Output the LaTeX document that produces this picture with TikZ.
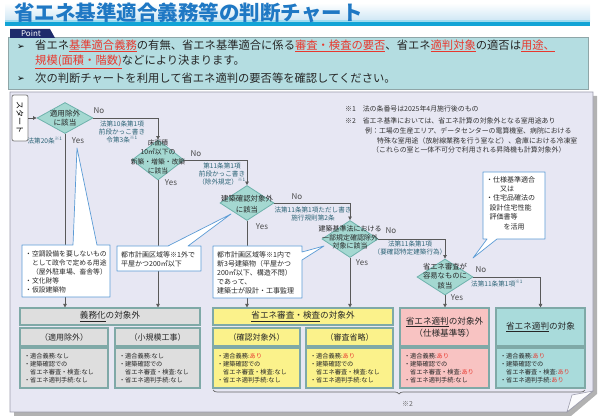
\documentclass[tikz,border=0pt]{standalone}
\usepackage{fontspec}
\setmainfont{Noto Sans CJK JP}
\newfontfamily\symfont{DejaVu Sans}
\usetikzlibrary{shapes.geometric,arrows.meta,decorations.pathreplacing}

\definecolor{titleblue}{HTML}{1F78C4}
\definecolor{titleband}{HTML}{CBE5F4}
\definecolor{lineblue}{HTML}{12A4D6}
\definecolor{pointbg}{HTML}{B4DDE1}
\definecolor{pointedge}{HTML}{8FA6A8}
\definecolor{tabnavy}{HTML}{1E2C6C}
\definecolor{alertred}{HTML}{E8382E}
\definecolor{panelbg}{HTML}{E7E7F3}
\definecolor{paneledge}{HTML}{9C9CAC}
\definecolor{diafill}{HTML}{A4D8D1}
\definecolor{diaedge}{HTML}{6EB2AC}
\definecolor{lbltxt}{HTML}{2E6577}
\definecolor{callblue}{HTML}{5B9BD5}
\definecolor{boxedge}{HTML}{7FA9A7}
\definecolor{greybox}{HTML}{DEDEDE}
\definecolor{yellowbox}{HTML}{FBF28B}
\definecolor{pinkbox}{HTML}{F8C3C2}
\definecolor{tealbox}{HTML}{A9DBDB}

\newcommand{\redul}[1]{\textcolor{alertred}{\underline{#1}}}
\newcommand{\ari}{\textcolor{alertred}{あり}}

\begin{document}
\begin{tikzpicture}[x=1pt, y=-1pt,
        dia/.style={diamond, draw=diaedge, fill=diafill, line width=0.8pt, inner sep=0pt},
        diatxt/.style={align=center, inner sep=0pt, text=black!85},
        lbl/.style={align=center, inner sep=0pt, font=\fontsize{6.6}{8.2}\selectfont, text=lbltxt},
        yn/.style={inner sep=0pt, font=\fontsize{8}{9}\selectfont, text=black!70},
        flow/.style={draw=black!65, line width=0.7pt},
        arr/.style={flow, -{Triangle[length=3.5pt, width=3.5pt]}},
        callout/.style={draw=callblue, fill=white, line width=0.7pt, line join=round},
        calltxt/.style={align=left, anchor=north west, inner sep=0pt, font=\fontsize{7}{9}\selectfont, text=black!85},
        note/.style={anchor=west, inner sep=0pt, font=\fontsize{6.9}{8}\selectfont, text=black!80},
        res/.style={draw=boxedge, line width=1.1pt, inner sep=0pt, align=center, text=black!85},
        head/.style={res, minimum height=17pt, font=\fontsize{8.6}{11}\selectfont},
        sub/.style={res, minimum height=18pt, font=\fontsize{8}{10}\selectfont},
        detail/.style={res, minimum height=40pt, inner xsep=4pt, align=left, font=\fontsize{6.2}{8}\selectfont}]
        \useasboundingbox (0,0) rectangle (600,419);

        % title
        \shade[top color=white, bottom color=titleband] (5,3) rectangle (590,22);
        \fill[lineblue!40] (5,20) rectangle (590,22);
        \fill[lineblue] (5,22) rectangle (590,26.5);
        \node[anchor=west, inner sep=0pt, text=titleblue, font=\fontsize{20.5}{24}\bfseries\selectfont] (title) at (14,12.5) {省エネ基準適合義務等の判断チャート};

        % point box
        \draw[fill=pointbg, draw=pointedge, line width=0.8pt] (8,37.5) rectangle (588,89);
        \fill[tabnavy] (10,29) -- (50,29) -- (55,38) -- (10,38) -- cycle;
        \node[inner sep=0pt, text=white, font=\fontsize{8}{9}\selectfont] (pointtab) at (31,33.5) {Point};
        \node[inner sep=0pt, font=\fontsize{9}{10}\symfont] (b1) at (21,47) {➢};
        \node[inner sep=0pt, font=\fontsize{9}{10}\symfont] (b2) at (21,79) {➢};
        \node[anchor=west, inner sep=0pt, text=black!85, font=\fontsize{11.3}{13}\selectfont] (p1) at (35,46)
            {省エネ\redul{基準適合義務}の有無、省エネ基準適合に係る\redul{審査・検査の要否}、省エネ\redul{適判対象}の適否は\redul{用途、}};
        \node[anchor=west, inner sep=0pt, text=black!85, font=\fontsize{11.3}{13}\selectfont] (p2) at (35,62)
            {\redul{規模(面積・階数)}などにより決まります。};
        \node[anchor=west, inner sep=0pt, text=black!85, font=\fontsize{11.3}{13}\selectfont] (p3) at (35,78)
            {次の判断チャートを利用して省エネ適判の要否等を確認してください。};

        % chart panel
        \fill[black!30] (14,96) -- (597,96) -- (597,394) -- (571,416) -- (14,416) -- cycle;
        \draw[fill=panelbg, draw=paneledge, line width=0.8pt] (10,92) -- (593,92) -- (593,391) -- (567,412) -- (10,412) -- cycle;
        \draw[fill=white!85!panelbg, draw=paneledge, line width=0.6pt] (593,391) -- (572,395) -- (567,412) -- cycle;

        % notes
        \node[note] (n1) at (345,109) {※1　法の条番号は2025年4月施行後のもの};
        \node[note] (n2) at (345,121) {※2　省エネ基準においては、省エネ計算の対象外となる室用途あり};
        \node[note] (n3) at (365,131) {例：工場の生産エリア、データセンターの電算機室、病院における};
        \node[note] (n4) at (377,141) {特殊な室用途（放射線業務を行う室など）、倉庫における冷凍室};
        \node[note] (n5) at (372,150) {（これらの室と一体不可分で利用される昇降機も計算対象外）};

        % start and decisions
        \node[draw=black!50, fill=white, rounded corners=2pt, line width=0.8pt, rotate=-90,
            minimum width=46pt, minimum height=16pt, inner sep=0pt, font=\fontsize{8}{9}\selectfont] (start) at (20,118) {スタート};

        \node[dia, minimum width=56pt, minimum height=31pt] (d1) at (65,118) {};
        \node[diatxt, font=\fontsize{7.6}{9.5}\selectfont] (d1t) at (65,118) {適用除外\\に該当};
        \node[dia, minimum width=52pt, minimum height=40pt] (d2) at (158,160) {};
        \node[diatxt, font=\fontsize{6.8}{9.3}\selectfont] (d2t) at (158,157) {床面積\\10㎡以下の\\新築・増築・改築\\に該当};
        \node[dia, minimum width=54pt, minimum height=35pt] (d3) at (247,203) {};
        \node[diatxt, font=\fontsize{7.4}{11}\selectfont] (d3t) at (247,204) {建築確認対象外\\に該当};
        \node[dia, minimum width=56pt, minimum height=37pt] (d4) at (350,239) {};
        \node[diatxt, font=\fontsize{7}{8.6}\selectfont] (d4t) at (350,237.5) {建築基準法における\\一部規定確認除外\\対象に該当};
        \node[dia, minimum width=56pt, minimum height=36pt] (d5) at (445,277) {};
        \node[diatxt, font=\fontsize{7.3}{9.5}\selectfont] (d5t) at (445,276) {省エネ審査が\\容易なものに\\該当};

        % branch texts
        \node[yn] (no1) at (99,111) {No};
        \node[yn] (yes1) at (78,141) {Yes};
        \node[lbl] (l1) at (122,132) {法第10条第1項\\前段かっこ書き\\令第3条\textsuperscript{※1}};
        \node[lbl] (l1b) at (45,141) {法第20条\textsuperscript{※1}};
        \node[yn] (no2) at (196,154) {No};
        \node[yn] (yes2) at (171,183) {Yes};
        \node[lbl] (l2) at (222,174) {第11条第1項\\前段かっこ書き\\（除外規定）\textsuperscript{※1}};
        \node[yn] (no3) at (297,197) {No};
        \node[yn] (yes3) at (262,227) {Yes};
        \node[lbl] (l3) at (313,214) {法第11条第1項ただし書き\\施行規則第2条};
        \node[yn] (no4) at (391,231) {No};
        \node[yn] (yes4) at (362,263) {Yes};
        \node[lbl] (l4) at (410,248) {法第11条第1項\\（要確認特定建築行為）};
        \node[yn] (no5) at (481,270) {No};
        \node[yn] (yes5) at (457,298) {Yes};
        \node[lbl] (l5) at (497,284) {法第11条第1項\textsuperscript{※1}};

        % result boxes
        \node[head, fill=greybox, minimum width=180pt] (ghead) at (110,316.5) {\underline{義務化}の対象外};
        \node[sub, fill=greybox, minimum width=88pt] (gsub1) at (64,337) {（適用除外）};
        \node[sub, fill=greybox, minimum width=85pt] (gsub2) at (157.5,337) {（小規模工事）};
        \node[detail, fill=greybox, text width=80pt] (gdet1) at (64,368) {・適合義務:なし\\・建築確認での\\\hspace{1em}省エネ審査・検査:なし\\・省エネ適判手続:なし};
        \node[detail, fill=greybox, text width=77pt] (gdet2) at (157.5,368) {・適合義務:なし\\・建築確認での\\\hspace{1em}省エネ審査・検査:なし\\・省エネ適判手続:なし};

        \node[head, fill=yellowbox, minimum width=180pt] (yhead) at (303,316.5) {\underline{省エネ審査・検査}の対象外};
        \node[sub, fill=yellowbox, minimum width=87pt] (ysub1) at (256.5,337) {（確認対象外）};
        \node[sub, fill=yellowbox, minimum width=87pt] (ysub2) at (349.5,337) {（審査省略）};
        \node[detail, fill=yellowbox, text width=79pt] (ydet1) at (256.5,368) {・適合義務:\ari\\・建築確認での\\\hspace{1em}省エネ審査・検査:なし\\・省エネ適判手続:なし};
        \node[detail, fill=yellowbox, text width=79pt] (ydet2) at (349.5,368) {・適合義務:\ari\\・建築確認での\\\hspace{1em}省エネ審査・検査:なし\\・省エネ適判手続:なし};

        \node[res, fill=pinkbox, minimum width=89pt, minimum height=38pt, font=\fontsize{8.6}{12}\selectfont] (phead) at (444.5,327) {\underline{省エネ適判}の対象外\\（仕様基準等）};
        \node[detail, fill=pinkbox, text width=81pt] (pdet) at (444.5,368) {・適合義務:\ari\\・建築確認での\\\hspace{1em}省エネ審査・検査:\ari\\・省エネ適判手続:なし};

        \node[res, fill=tealbox, minimum width=89pt, minimum height=38pt, font=\fontsize{8.6}{11}\selectfont] (thead) at (540.5,327) {\underline{省エネ適判}の対象};
        \node[detail, fill=tealbox, text width=81pt] (tdet) at (540.5,368) {・適合義務:\ari\\・建築確認での\\\hspace{1em}省エネ審査・検査:\ari\\・省エネ適判手続:\ari};

        \draw[black!60, line width=0.7pt, decorate, decoration={brace, mirror, amplitude=4pt}] (213,390) -- (585,390);
        \node[note, text=black!60] (n2b) at (402,404) {※2};

        % connectors
        \draw[arr] (start.north) -- (d1.west);
        \draw[arr] (d1.east) -| (d2.north);
        \draw[arr] (d2.east) -| (d3.north);
        \draw[arr] (d3.east) -| (d4.north);
        \draw[arr] (d4.east) -| (d5.north);
        \draw[arr] (d5.east) -| (thead.north);
        \draw[arr] (d1.south) -- (d1.south |- ghead.north);
        \draw[arr] (d2.south) -- (d2.south |- ghead.north);
        \draw[arr] (d3.south) -- (d3.south |- yhead.north);
        \draw[arr] (d4.south) -- (d4.south |- yhead.north);
        \draw[arr] (d5.south) -- (d5.south |- phead.north);

        % callouts
        \draw[callout] (22,245) -- (73,245) -- (77,148) -- (97,245) -- (110,245) -- (110,297) -- (22,297) -- cycle;
        \node[calltxt, font=\fontsize{6.8}{9}\selectfont] (c1) at (25,250.5) {・空調設備を要しないもの\\\hspace{1em}として政令で定める用途\\\hspace{1em}（屋外駐車場、畜舎等）\\・文化財等\\・仮設建築物};
        \draw[callout] (117,246) -- (168,246) -- (231,214) -- (188,246) -- (201,246) -- (201,271) -- (117,271) -- cycle;
        \node[calltxt] (c2) at (121,251) {都市計画区域等※1外で\\平屋かつ200㎡以下};
        \draw[callout] (213,246) -- (302,246) -- (302,252) -- (324,246) -- (302,260) -- (302,298) -- (213,298) -- cycle;
        \node[calltxt] (c3) at (217,251) {都市計画区域等※1内で\\新3号建築物（平屋かつ\\200㎡以下、構造不問）\\であって、\\建築士が設計・工事監理};
        \draw[callout] (483,172) -- (545,172) -- (545,239) -- (497,239) -- (473,258) -- (487,239) -- (483,239) -- cycle;
        \node[calltxt, font=\fontsize{7}{9.4}\selectfont] (c4) at (486,176) {・仕様基準適合\\\hspace{2em}又は\\・住宅品確法の\\\hspace{0.5em}設計住宅性能\\\hspace{0.5em}評価書等\\\hspace{2.5em}を活用};
\end{tikzpicture}
\end{document}
